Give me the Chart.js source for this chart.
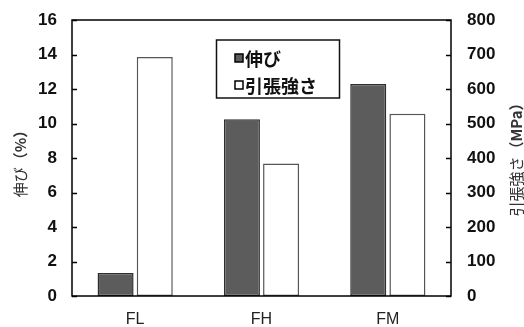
<!DOCTYPE html>
<html>
<head>
<meta charset="utf-8">
<script src="https://cdn.jsdelivr.net/npm/chart.js@4/dist/chart.umd.min.js"></script>
<style>
  html, body { margin: 0; padding: 0; background: #fff; }
  #wrap { width: 524px; height: 327px; }
</style>
</head>
<body>
<div id="wrap"><canvas id="c" width="524" height="327"></canvas></div>
<script>
// Samples
const categories = ['FL', 'FH', 'FM'];
// Elongation (%), left axis
const elongation = [1.34, 10.25, 12.29];
// Tensile strength (MPa), right axis
const tensileStrength = [693, 384, 528];
const seriesNames = ['伸び', '引張強さ'];
const leftTitleParts = [['伸び', 'normal'], ['（%）', 'bold']];
const rightTitleParts = [['引張強さ', 'normal'], ['（MPa）', 'bold']];
const leftRange = [0, 16, 2];
const rightRange = [0, 800, 100];

const JP = '"Noto Sans CJK JP", "Noto Sans", sans-serif';
const LAT = '"Liberation Sans", Arial, sans-serif';

const darkFill = '#5c5c5c';
const darkEdge = '#2e2e2e';
const lightFill = '#ffffff';
const lightEdge = '#555555';

// Box frame, inward ticks, rotated axis titles and in-plot legend
const decorations = {
  id: 'decorations',
  afterDatasetsDraw(chart) {
    const ctx = chart.ctx;
    const a = chart.chartArea;
    const yL = chart.scales.y, yR = chart.scales.y2;
    ctx.save();
    ctx.strokeStyle = '#000';
    ctx.lineWidth = 1.5;
    ctx.strokeRect(a.left, a.top, a.right - a.left, a.bottom - a.top);
    ctx.beginPath();
    yL.ticks.forEach(t => {
      const p = Math.round(yL.getPixelForValue(t.value)) + 0.5;
      ctx.moveTo(a.left, p); ctx.lineTo(a.left + 5, p);
    });
    yR.ticks.forEach(t => {
      const p = Math.round(yR.getPixelForValue(t.value)) + 0.5;
      ctx.moveTo(a.right, p); ctx.lineTo(a.right - 5, p);
    });
    ctx.stroke();

    // axis titles, read bottom to top
    const drawTitle = (parts, cx, cy) => {
      ctx.save();
      ctx.translate(cx, cy);
      ctx.rotate(-Math.PI / 2);
      ctx.fillStyle = '#333';
      ctx.textBaseline = 'middle';
      ctx.textAlign = 'left';
      let total = 0;
      const widths = parts.map(([s, w]) => {
        ctx.font = w + ' 15px ' + JP;
        const m = ctx.measureText(s).width;
        total += m;
        return m;
      });
      let x = -total / 2;
      parts.forEach(([s, w], i) => {
        ctx.font = w + ' 15px ' + JP;
        ctx.fillText(s, x, 0);
        x += widths[i];
      });
      ctx.restore();
    };
    const midY = (a.top + a.bottom) / 2;
    drawTitle(leftTitleParts, 20, midY + 2);
    drawTitle(rightTitleParts, 516.5, midY - 2);

    // legend
    const lx = 216.5, ly = 40, lw = 123, lh = 58;
    ctx.fillStyle = '#fff';
    ctx.fillRect(lx, ly, lw, lh);
    ctx.strokeStyle = '#111';
    ctx.lineWidth = 1.5;
    ctx.strokeRect(lx, ly, lw, lh);
    chart.data.datasets.forEach((ds, i) => {
      const cy = 58 + i * 27;
      ctx.fillStyle = ds.backgroundColor;
      ctx.fillRect(235, cy - 4, 8, 8);
      ctx.strokeStyle = '#000';
      ctx.lineWidth = 1.5;
      ctx.strokeRect(235, cy - 4, 8, 8);
      ctx.fillStyle = '#111';
      ctx.font = 'bold 18px ' + JP;
      ctx.textAlign = 'left';
      ctx.textBaseline = 'middle';
      ctx.fillText(ds.label, 245, cy + 1);
    });
    ctx.restore();
  }
};

const noPadY = s => { s.paddingTop = 0; s.paddingBottom = 0; };

new Chart(document.getElementById('c'), {
  type: 'bar',
  data: {
    labels: categories,
    datasets: [
      {
        label: seriesNames[0], data: elongation, yAxisID: 'y',
        backgroundColor: darkFill, borderColor: darkEdge, borderWidth: 1.5,
        borderSkipped: false,
        categoryPercentage: 0.62, barPercentage: 0.92
      },
      {
        label: seriesNames[1], data: tensileStrength, yAxisID: 'y2',
        backgroundColor: lightFill, borderColor: lightEdge, borderWidth: 1.5,
        borderSkipped: false,
        categoryPercentage: 0.62, barPercentage: 0.92
      }
    ]
  },
  options: {
    responsive: false,
    animation: false,
    devicePixelRatio: 1,
    layout: { padding: { top: 20, left: 0, right: 0, bottom: 0 } },
    plugins: { legend: { display: false }, tooltip: { enabled: false } },
    scales: {
      x: {
        grid: { display: false, drawTicks: false },
        border: { display: false },
        ticks: { color: '#222', font: { family: LAT, size: 16 }, padding: 14 },
        afterFit(s) { s.height = 31; s.paddingLeft = 0; s.paddingRight = 0; }
      },
      y: {
        position: 'left',
        min: leftRange[0], max: leftRange[1],
        grid: { display: false, drawTicks: false },
        border: { display: false },
        ticks: { stepSize: leftRange[2], color: '#111', font: { family: LAT, size: 17, weight: 'bold' }, padding: 15 },
        afterFit(s) { s.width = 72; noPadY(s); }
      },
      y2: {
        position: 'right',
        min: rightRange[0], max: rightRange[1],
        grid: { display: false, drawTicks: false },
        border: { display: false },
        ticks: { stepSize: rightRange[2], color: '#111', font: { family: LAT, size: 17, weight: 'bold' }, padding: 16 },
        afterFit(s) { s.width = 73; noPadY(s); }
      }
    }
  },
  plugins: [decorations]
});
</script>
</body>
</html>
